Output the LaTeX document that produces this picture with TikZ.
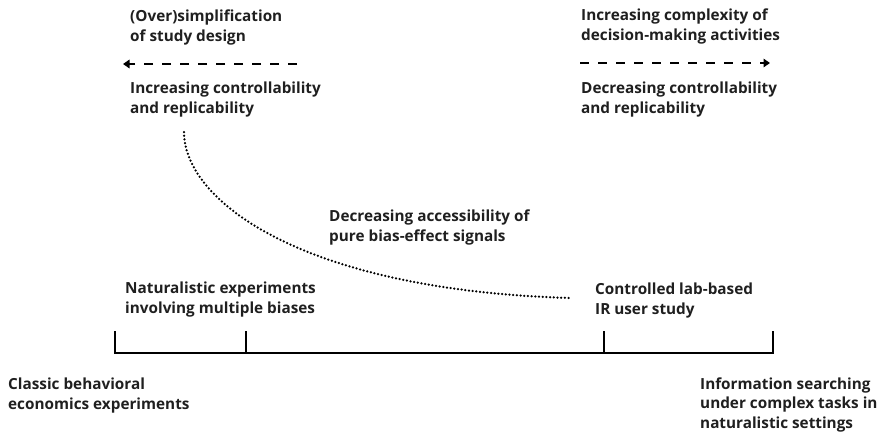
\documentclass[tikz,border=0pt]{standalone}
\usepackage{fontspec}
\setmainfont{Open Sans}
\usetikzlibrary{arrows.meta}
\begin{document}
\begin{tikzpicture}[x=1pt,y=-1pt,
  lbl/.style={anchor=base west,inner sep=0pt,align=left,
    font=\bfseries\fontsize{15.3}{19.3}\selectfont,text=black!88},
  dirarrow/.style={line width=2.8pt,dash pattern=on 9pt off 9pt,
    -{Triangle[length=6.5pt,width=8.5pt]}},
  dotline/.style={line width=2.5pt,line cap=round,dash pattern=on 0pt off 3.7pt},
  axis/.style={line width=2.3pt,line cap=rect}]
\useasboundingbox (0,0) rectangle (887,434);

% direction labels and arrows (nodes placed by the baseline of their last line)
\node[lbl] (simp) at (130,41) {(Over)simplification\\of study design};
\node[lbl] (incctl) at (130,113) {Increasing controllability\\and replicability};
\node[lbl] (cplx) at (581,40) {Increasing complexity of\\decision-making activities};
\node[lbl] (decctl) at (581,113) {Decreasing controllability\\and replicability};
\coordinate (la) at (297,64);
\coordinate (lb) at (123,64);
\coordinate (ra) at (580,63);
\coordinate (rb) at (770,63);
\draw[dirarrow] (la) -- (lb);
\draw[dirarrow] (ra) -- (rb);

% signal accessibility curve
\node[lbl] (access) at (329,241) {Decreasing accessibility of\\pure bias-effect signals};
\coordinate (cs) at (184,132);
\coordinate (ce) at (570,298);
\draw[dotline] (cs) .. controls (184,200) and (300,290) .. (ce);

% study types on the scale
\node[lbl] (natexp) at (125,313) {Naturalistic experiments\\involving multiple biases};
\node[lbl] (lab) at (595,314) {Controlled lab-based\\IR user study};
\node[lbl] (classic) at (8,409) {Classic behavioral\\economics experiments};
\node[lbl] (info) at (700,428) {Information searching\\under complex tasks in\\naturalistic settings};

% scale with ticks
\coordinate (t1) at (115,332);
\coordinate (b1) at (115,353);
\coordinate (t2) at (246,332);
\coordinate (b2) at (246,353);
\coordinate (t3) at (604,332);
\coordinate (b3) at (604,353);
\coordinate (t4) at (773,332);
\coordinate (b4) at (773,353);
\draw[axis] (t1) -- (b1) -- (b4) -- (t4);
\draw[axis] (t2) -- (b2);
\draw[axis] (t3) -- (b3);
\end{tikzpicture}
\end{document}
